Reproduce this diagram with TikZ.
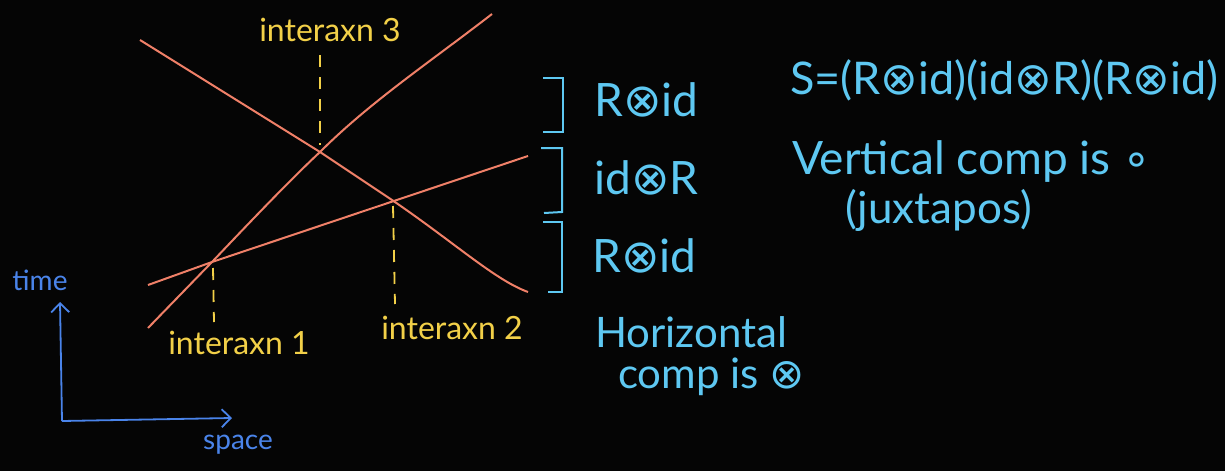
\documentclass[tikz,border=0pt]{standalone}
\usepackage{fontspec}
\setmainfont{Lato}
\newfontfamily\symfont{DejaVu Sans}
\newcommand{\tens}{{\symfont ⊗}}
\newcommand{\compo}{{\symfont ∘}}
\usetikzlibrary{arrows.meta}
\definecolor{bg}{HTML}{050505}
\definecolor{salmon}{HTML}{F08068}
\definecolor{gold}{HTML}{F2D048}
\definecolor{axisblue}{HTML}{4A84EA}
\definecolor{cyanink}{HTML}{5EC8F2}
\begin{document}
\begin{tikzpicture}[x=1pt,y=-1pt,
  worldline/.style={draw=salmon,line width=2pt},
  interdash/.style={draw=gold,line width=1.8pt,dash pattern=on 12pt off 10pt},
  ylabel/.style={text=gold,font=\fontsize{32}{34}\selectfont,inner sep=0pt},
  axis/.style={draw=axisblue,line width=1.8pt,-{Straight Barb[length=9pt,width=18pt,line width=1.8pt]}},
  blabel/.style={text=axisblue,font=\fontsize{28}{30}\selectfont,inner sep=0pt},
  bracket/.style={draw=cyanink,line width=2pt},
  ctext/.style={text=cyanink,inner sep=0pt},
]
\fill[bg] (0,0) rectangle (1225,471);
\useasboundingbox (0,0) rectangle (1225,471);

% crossing points and ends
\coordinate (A1) at (140,40);
\coordinate (A2) at (528,292);
\coordinate (B1) at (148,328);
\coordinate (B2) at (492,14);
\coordinate (C1) at (148,285);
\coordinate (C2) at (528,156);
\coordinate (X1) at (212,262);
\coordinate (X2) at (392,200);
\coordinate (X3) at (320,152);

% world lines
\draw[worldline] (A1) -- (X3) -- (X2) .. controls (455,243) and (495,280) .. (A2);
\draw[worldline] (B1) -- (X1) .. controls (250,222) and (290,180) .. (X3) .. controls (370,102) and (430,62) .. (B2);
\draw[worldline] (C1) -- (X1) -- (C2);

% interaction markers
\coordinate (D3a) at (320,55);
\coordinate (D3b) at (320,145);
\coordinate (D1a) at (213,268);
\coordinate (D1b) at (214,322);
\coordinate (D2a) at (393,206);
\coordinate (D2b) at (395,304);
\draw[interdash] (D3a) -- (D3b);
\draw[interdash] (D1a) -- (D1b);
\draw[interdash] (D2a) -- (D2b);
\node[ylabel] (I3) at (330,30) {interaxn 3};
\node[ylabel] (I1) at (239,343) {interaxn 1};
\node[ylabel] (I2) at (452,328) {interaxn 2};

% axes
\coordinate (O) at (62,421);
\coordinate (T) at (60,302);
\coordinate (S) at (232,418);
\draw[axis] (O) -- (T);
\draw[axis] (O) -- (S);
\node[blabel] (time) at (40,280) {time};
\node[blabel] (space) at (238,445) {space};

% brackets
\draw[bracket] (543,78) -- (563,78) -- (563,132) -- (543,132);
\draw[bracket] (541,148) -- (562,148) -- (562,212) -- (544,213);
\draw[bracket] (543,222) -- (562,222) -- (562,292) -- (548,292);
\node[ctext,font=\fontsize{46}{48}\selectfont,anchor=west] (L1) at (594,100) {R\tens id};
\node[ctext,font=\fontsize{46}{48}\selectfont,anchor=west] (L2) at (594,178) {id\tens R};
\node[ctext,font=\fontsize{46}{48}\selectfont,anchor=west] (L3) at (592,256) {R\tens id};

% right-hand notes
\node[ctext,font=\fontsize{45}{47}\selectfont,anchor=west] (S1) at (790,80) {S=(R\tens id)(id\tens R)(R\tens id)};
\node[ctext,font=\fontsize{46}{48}\selectfont,anchor=west] (V1) at (792,162) {Vertical comp is \compo};
\node[ctext,font=\fontsize{44}{46}\selectfont,anchor=west] (V2) at (845,210) {(juxtapos)};
\node[ctext,font=\fontsize{42}{44}\selectfont,anchor=west] (H1) at (595,332) {Horizontal};
\node[ctext,font=\fontsize{42}{44}\selectfont,anchor=west] (H2) at (618,377) {comp is \tens};
\end{tikzpicture}
\end{document}
